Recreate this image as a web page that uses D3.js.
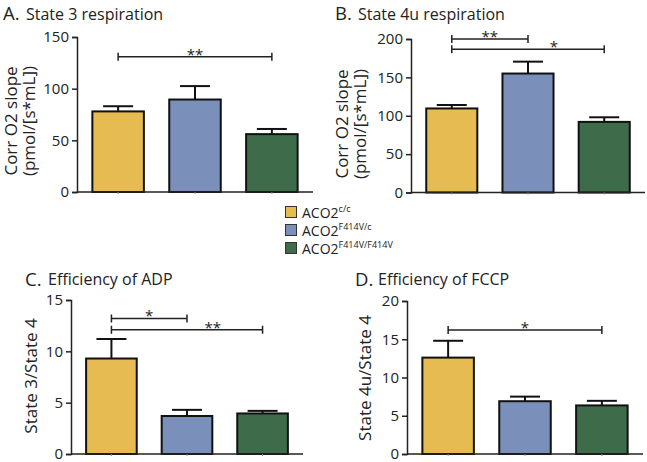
<!DOCTYPE html>
<html><head><meta charset="utf-8">
<script src="https://cdn.jsdelivr.net/npm/d3@7"></script>
<style>body{margin:0;background:#fff}svg{display:block;font-family:"Open Sans",sans-serif}</style>
</head><body><svg id="c" width="647" height="462"></svg>
<script>
const groups = ["ACO2c/c","ACO2F414V/c","ACO2F414V/F414V"];
const colors = ["#E5BB52","#7A8FBA","#3E6C4A"];
// Panel A: State 3 respiration
const meanA = [78, 89.5, 56], errA = [83, 102.5, 61];
// Panel B: State 4u respiration
const meanB = [109.5, 155, 92], errB = [114, 170.5, 98];
// Panel C: Efficiency of ADP
const meanC = [9.3, 3.7, 3.95], errC = [11.2, 4.3, 4.2];
// Panel D: Efficiency of FCCP
const meanD = [12.6, 6.9, 6.35], errD = [14.8, 7.5, 6.95];
const ticksA = [0,50,100,150], ticksB = [0,50,100,150,200], ticksC = [0,5,10,15], ticksD = [0,5,10,15,20];
// significance: [from group, to group, bracket level, label]
const sigA = [[0,2,131,"**"]];
const sigB = [[0,1,200,"**"],[0,2,186.5,"*"]];
const sigC = [[0,1,13.2,"*"],[0,2,12.1,"**"]];
const sigD = [[0,2,16.2,"*"]];

const svg = d3.select("#c");

function panel(o){
  const g = svg.append("g");
  const x = d3.scaleBand().domain(d3.range(3)).range([o.x0,o.x1]).paddingInner(0.33).paddingOuter(0.2);
  const y = d3.scaleLinear().domain([0,o.max]).range([o.y0,o.yt]);
  // title
  g.append("text").attr("x",o.lx).attr("y",o.ty+0.5).attr("font-size",18.5).attr("fill","#222").text(o.letter);
  g.append("text").attr("x",o.tx).attr("y",o.ty).attr("font-size",16).attr("fill","#222").text(o.title);
  // y label
  const yl = g.append("text").attr("transform",`translate(${o.ylx},${o.ylc}) rotate(-90)`)
    .attr("text-anchor","middle").attr("font-size",17).attr("fill","#222");
  o.ylabel.forEach((t,i)=>yl.append("tspan").attr("x",0).attr("dy",i?18:0).text(t));
  // bars
  o.mean.forEach((m,i)=>{
    const cx = x(i)+x.bandwidth()/2;
    g.append("line").attr("x1",cx).attr("x2",cx).attr("y1",y(m)).attr("y2",y(o.err[i])).attr("stroke","#111").attr("stroke-width",2);
    g.append("line").attr("x1",cx-15).attr("x2",cx+15).attr("y1",y(o.err[i])).attr("y2",y(o.err[i])).attr("stroke","#111").attr("stroke-width",2);
    g.append("rect").attr("x",x(i)).attr("width",x.bandwidth()).attr("y",y(m)).attr("height",y(0)-y(m))
      .attr("fill",colors[i]).attr("stroke","#111").attr("stroke-width",2);
  });
  // axes
  const ya = g.append("g").attr("transform",`translate(${o.x0},0)`)
    .call(d3.axisLeft(y).tickValues(o.ticks).tickSize(5).tickPadding(3));
  ya.selectAll("text").attr("font-size",15).attr("fill","#222").attr("font-family","Open Sans");
  ya.selectAll("path,line").attr("stroke","#222").attr("stroke-width",1.5);
  const xa = g.append("g").attr("transform",`translate(0,${o.y0})`)
    .call(d3.axisBottom(x).tickSize(2).tickFormat(""));
  xa.select("path").attr("d",`M${o.x0},0H${o.x1}`).attr("stroke","#222").attr("stroke-width",1.5);
  xa.selectAll("line").attr("stroke","#888");
  // significance brackets
  o.sig.forEach((s,k)=>{
    const a = x(s[0])+x.bandwidth()/2, b = x(s[1])+x.bandwidth()/2, yy = y(s[2]);
    const f = (o.labelAt && o.labelAt[k]) || 0.5;
    g.append("path").attr("d",`M${a},${yy-4}V${yy+4}M${a},${yy}H${b}M${b},${yy-4}V${yy+4}`)
      .attr("fill","none").attr("stroke","#222").attr("stroke-width",1.5);
    g.append("text").attr("x",a+(b-a)*f).attr("y",yy+3).attr("text-anchor","middle").attr("font-size",15).attr("fill","#222").text(s[3]);
  });
}

panel({letter:"A.",title:"State 3 respiration",lx:3,tx:26,ty:19.5,x0:77,x1:313,y0:192,yt:37,max:150,
  mean:meanA,err:errA,ticks:ticksA,sig:sigA,ylabel:["Corr O2 slope","(pmol/[s*mL])"],ylx:17,ylc:121});
panel({letter:"B.",title:"State 4u respiration",lx:335,tx:358,ty:19.5,x0:411,x1:645,y0:192.5,yt:39,max:200,
  mean:meanB,err:errB,ticks:ticksB,sig:sigB,labelAt:[0.5,0.67],ylabel:["Corr O2 slope","(pmol/[s*mL])"],ylx:348,ylc:124});
panel({letter:"C.",title:"Efficiency of ADP",lx:25,tx:48,ty:285,x0:71,x1:303,y0:454,yt:300,max:15,
  mean:meanC,err:errC,ticks:ticksC,sig:sigC,labelAt:[0.5,0.67],ylabel:["State 3/State 4"],ylx:37,ylc:376});
panel({letter:"D.",title:"Efficiency of FCCP",lx:355,tx:378,ty:285,x0:407,x1:643,y0:454,yt:301,max:20,
  mean:meanD,err:errD,ticks:ticksD,sig:sigD,ylabel:["State 4u/State 4"],ylx:371,ylc:378});

// legend
const sups = ["c/c","F414V/c","F414V/F414V"];
const lg = svg.append("g");
groups.forEach((gname,i)=>{
  const cy = 212 + i*18;
  lg.append("rect").attr("x",285.5).attr("y",cy-5.5).attr("width",11).attr("height",11)
    .attr("fill",colors[i]).attr("stroke","#333").attr("stroke-width",1);
  const t = lg.append("text").attr("x",302).attr("y",cy+5.5).attr("font-size",14).attr("fill","#222");
  t.append("tspan").text(gname.slice(0,4));
  t.append("tspan").attr("dy",-5.5).attr("font-size",9).text(sups[i]);
});
</script></body></html>
